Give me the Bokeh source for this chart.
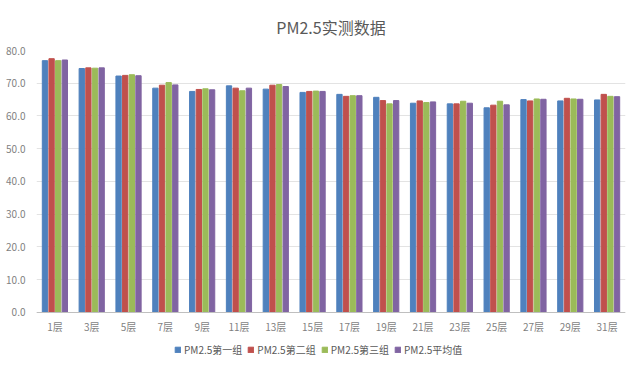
from bokeh.plotting import figure
from bokeh.models import ColumnDataSource, Legend, LegendItem, FactorRange, FixedTicker, CustomJSTickFormatter
from bokeh.transform import dodge
from bokeh.embed import file_html
from bokeh.resources import INLINE

floors = ["1层", "3层", "5层", "7层", "9层", "11层", "13层", "15层", "17层", "19层",
          "21层", "23层", "25层", "27层", "29层", "31层"]
g1 = [76.9, 74.5, 72.2, 68.5, 67.5, 69.2, 68.2, 67.2, 66.6, 65.7, 63.9, 63.7, 62.5, 65.0, 64.6, 64.9]
g2 = [77.5, 74.7, 72.4, 69.4, 68.1, 68.5, 69.4, 67.5, 66.0, 64.7, 64.6, 63.7, 63.3, 64.6, 65.4, 66.6]
g3 = [76.9, 74.6, 72.6, 70.2, 68.3, 67.7, 69.6, 67.6, 66.2, 63.7, 64.1, 64.5, 64.5, 65.2, 65.2, 66.0]
avg = [77.1, 74.7, 72.3, 69.5, 68.0, 68.5, 69.0, 67.5, 66.2, 64.7, 64.3, 63.9, 63.4, 65.1, 65.1, 65.9]
series_names = ["PM2.5第一组", "PM2.5第二组", "PM2.5第三组", "PM2.5平均值"]
colors = ["#4F81BD", "#C0504D", "#9BBB59", "#8064A2"]
y_ticks = [0, 10, 20, 30, 40, 50, 60, 70, 80]

FONT = "Noto Sans CJK SC"

src = ColumnDataSource(dict(floor=floors, g1=g1, g2=g2, g3=g3, avg=avg))

p = figure(width=638, height=366, x_range=FactorRange(*floors, range_padding=0),
           y_range=(-15.3, 80), output_backend="svg", toolbar_location=None,
           min_border_left=36, min_border_right=13, min_border_top=45, min_border_bottom=4)

cols = ["g1", "g2", "g3", "avg"]
offsets = [-0.27, -0.09, 0.09, 0.27]
renderers = []
for c, off, col in zip(cols, offsets, colors):
    r = p.vbar(x=dodge("floor", off, range=p.x_range), top=c, bottom=0, width=0.145, source=src,
               fill_color=col, line_color=col)
    renderers.append(r)

p.title.text = "PM2.5实测数据"
p.title.align = "center"
p.title.text_font = FONT
p.title.text_font_size = "16px"
p.title.text_font_style = "normal"
p.title.text_color = "#595959"
p.title.standoff = 24

p.yaxis.ticker = FixedTicker(ticks=y_ticks)
p.yaxis.formatter = CustomJSTickFormatter(code="return tick.toFixed(1);")
p.yaxis.axis_line_color = None
p.yaxis.major_tick_line_color = None
p.yaxis.minor_tick_line_color = None
p.yaxis.major_label_text_font = FONT
p.yaxis.major_label_text_font_size = "10px"
p.yaxis.major_label_text_color = "#7F7F7F"
p.yaxis.major_label_standoff = 5

p.xaxis.fixed_location = 0
p.xaxis.axis_line_color = "#BFBFBF"
p.xaxis.major_tick_line_color = None
p.xaxis.minor_tick_line_color = None
p.xaxis.major_label_text_font = FONT
p.xaxis.major_label_text_font_size = "10px"
p.xaxis.major_label_text_color = "#7F7F7F"
p.xaxis.major_label_standoff = 1

p.xgrid.grid_line_color = None
p.ygrid.grid_line_color = "#E3E3E3"
p.outline_line_color = None

legend = Legend(items=[LegendItem(label=n, renderers=[r]) for n, r in zip(series_names, renderers)],
                orientation="horizontal", location=(138, 5),
                label_text_font=FONT, label_text_font_size="10px", label_text_color="#595959",
                glyph_width=7, glyph_height=7, spacing=5, label_standoff=3,
                padding=2, margin=0, border_line_color=None, background_fill_alpha=0)
p.add_layout(legend)

open("out.html", "w").write(file_html(p, INLINE))
